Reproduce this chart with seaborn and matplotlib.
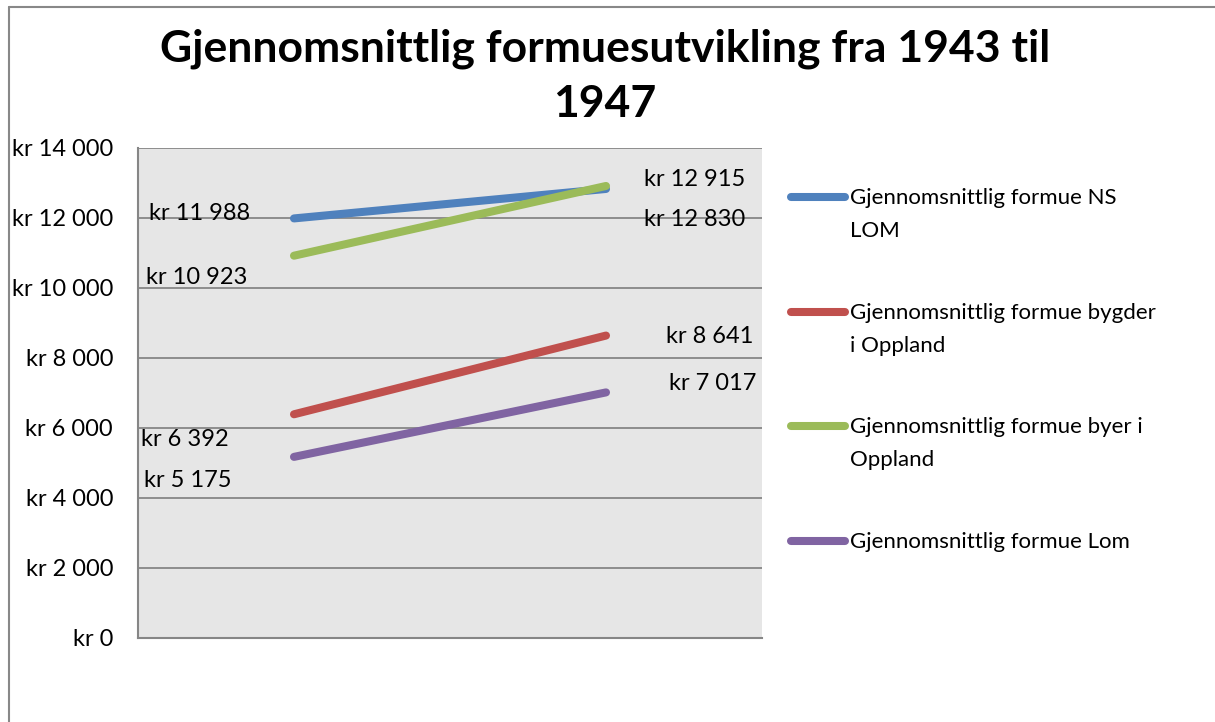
import matplotlib
matplotlib.use("Agg")
import matplotlib.pyplot as plt
import seaborn as sns
import pandas as pd
from matplotlib.lines import Line2D

years = ["1943", "1947"]
series_names = [
    "Gjennomsnittlig formue NS LOM",
    "Gjennomsnittlig formue bygder i Oppland",
    "Gjennomsnittlig formue byer i Oppland",
    "Gjennomsnittlig formue Lom",
]
legend_labels = [
    "Gjennomsnittlig formue NS\nLOM",
    "Gjennomsnittlig formue bygder\ni Oppland",
    "Gjennomsnittlig formue byer i\nOppland",
    "Gjennomsnittlig formue Lom",
]
ns_lom = [11988, 12830]
bygder = [6392, 8641]
byer = [10923, 12915]
lom = [5175, 7017]
colors = ["#4F81BD", "#C0504D", "#9BBB59", "#8064A2"]
y_ticks = [0, 2000, 4000, 6000, 8000, 10000, 12000, 14000]
title_lines = ["Gjennomsnittlig formuesutvikling fra 1943 til", "1947"]

values = [ns_lom, bygder, byer, lom]
rows = []
for name, vals in zip(series_names, values):
    for i, (yr, v) in enumerate(zip(years, vals)):
        rows.append({"pos": i, "year": yr, "value": v, "series": name})
df = pd.DataFrame(rows)

sns.set_theme(style="white")
plt.rcParams["font.family"] = ["Lato", "DejaVu Sans"]
plt.rcParams["text.color"] = "black"

W, H = 1215, 722
dpi = 100
fig = plt.figure(figsize=(W / dpi, H / dpi), dpi=dpi)
ax = fig.add_axes([138 / W, 1 - 638 / H, (762 - 138) / W, (638 - 148) / H])
ax.set_facecolor("#E6E6E6")

sns.lineplot(data=df, x="pos", y="value", hue="series", hue_order=series_names,
             palette=colors, linewidth=5.8, legend=False, ax=ax,
             solid_capstyle="round")

FS = 17
ax.set_xlim(-0.5, 1.5)
ax.set_ylim(0, 14000)
ax.set_yticks(y_ticks)
ax.set_yticklabels(["kr " + f"{t:,}".replace(",", " ") for t in y_ticks],
                   fontsize=FS, color="black")
ax.set_xticks([])
ax.set_xlabel("")
ax.set_ylabel("")
ax.tick_params(axis="y", length=0, pad=18)
for t in y_ticks[1:]:
    ax.axhline(t, color="#868686", lw=1.3, zorder=0.5)
for s in ["top", "right"]:
    ax.spines[s].set_visible(False)
for s in ["left", "bottom"]:
    ax.spines[s].set_color("#868686")
    ax.spines[s].set_linewidth(1.5)

# data labels (offsets in pixels relative to points)
label_offsets = {
    0: [(-44, 5), (38, -31)],
    1: [(-65, -25), (60, -1)],
    2: [(-47, -22), (38, 6)],
    3: [(-63, -24), (63, 9)],
}
for si, vals in enumerate(values):
    for i, v in enumerate(vals):
        dx, dy = label_offsets[si][i]
        txt = "kr " + f"{v:,}".replace(",", " ")
        ha = "right" if i == 0 else "left"
        ax.annotate(txt, xy=(i, v), xytext=(dx, dy), textcoords="offset pixels",
                    ha=ha, va="center", fontsize=FS, color="black", zorder=5)

# title
fig.text(605 / W, 1 - 49 / H, title_lines[0], ha="center", va="center",
         fontsize=32, fontweight="bold", color="black")
fig.text(605 / W, 1 - 104 / H, title_lines[1], ha="center", va="center",
         fontsize=32, fontweight="bold", color="black")

# legend
leg_y = [197, 312, 426, 541]
for lab, col, y in zip(legend_labels, colors, leg_y):
    fig.add_artist(Line2D([791 / W, 845 / W], [1 - y / H, 1 - y / H], color=col,
                          lw=5.8, solid_capstyle="round", transform=fig.transFigure))
    for k, line in enumerate(lab.split("\n")):
        fig.text(850 / W, 1 - (y + 1 + 33 * k) / H, line, ha="left", va="center",
                 fontsize=16, color="black")

# chart border
fig.add_artist(Line2D([8.5 / W, 8.5 / W], [0, 1 - 6.5 / H], color="#888888", lw=1.5,
                      transform=fig.transFigure))
fig.add_artist(Line2D([8.5 / W, 1], [1 - 6.5 / H, 1 - 6.5 / H], color="#888888", lw=1.5,
                      transform=fig.transFigure))

fig.savefig("out.png", dpi=dpi)
